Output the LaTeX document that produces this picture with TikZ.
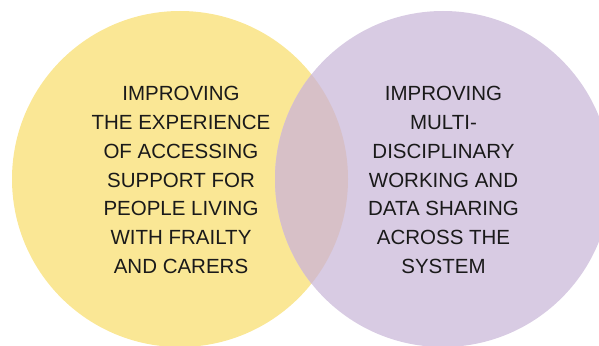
\documentclass[tikz,border=0pt]{standalone}
\usepackage{fontspec}
\setmainfont{Liberation Sans}
\definecolor{cyellow}{HTML}{FAE795}
\definecolor{cpurple}{HTML}{D8CBE3}
\definecolor{coverlap}{HTML}{D7C0C7}
\definecolor{ctext}{HTML}{1A1A1A}
\begin{document}
\begin{tikzpicture}[x=1pt,y=-1pt,
  label text/.style={align=center,text=ctext,inner sep=0pt,
    font=\fontsize{20.5}{28.7}\selectfont}]
\useasboundingbox (0,0) rectangle (599,345);
\clip (0,0) rectangle (599,345);
\fill[cyellow] (180,179) circle[radius=168];
\fill[cpurple] (443,179) circle[radius=168];
\begin{scope}
  \clip (180,179) circle[radius=168];
  \fill[coverlap] (443,179) circle[radius=168];
\end{scope}
\node[label text] (left) at (181,180) {IMPROVING\\THE EXPERIENCE\\OF ACCESSING\\SUPPORT FOR\\PEOPLE LIVING\\WITH FRAILTY\\AND CARERS};
\node[label text] (right) at (443.5,180) {IMPROVING\\MULTI-\\DISCIPLINARY\\WORKING AND\\DATA SHARING\\ACROSS THE\\SYSTEM};
\end{tikzpicture}
\end{document}
